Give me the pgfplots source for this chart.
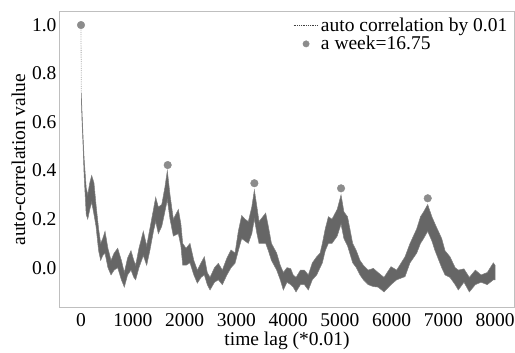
\documentclass[border=0pt]{standalone}
\usepackage{fontspec}
\setmainfont{Liberation Serif}
\usepackage{pgfplots}
\pgfplotsset{compat=1.18}
\begin{document}
\begin{tikzpicture}
\begin{axis}[
  name=ax,
  scale only axis,
  width=454pt, height=296pt,
  xmin=-406, xmax=8367, ymin=-0.165, ymax=1.055,
  xtick={0,1000,2000,3000,4000,5000,6000,7000,8000},
  ytick={0,0.2,0.4,0.6,0.8,1.0},
  scaled x ticks=false,
  xticklabel style={/pgf/number format/1000 sep={}, yshift=-2pt},
  yticklabel style={/pgf/number format/fixed,/pgf/number format/fixed zerofill,/pgf/number format/precision=1},
  /pgf/number format/assume math mode=true,
  major tick length=0pt,
  tick label style={font=\fontsize{19.5}{22}\selectfont, black},
  label style={font=\fontsize{19.5}{22}\selectfont, black},
  xlabel style={yshift=1pt},
  axis line style={draw=black!25, line width=1pt},
  xlabel={time lag (*0.01)},
  ylabel={auto-correlation value},
  legend style={at={(0.99,0.985)}, anchor=north east, draw=none, fill=none,
    font=\fontsize{19.5}{22}\selectfont, inner sep=0pt, row sep=-1pt},
  legend cell align=left,
]
\addplot[fill=black!60, draw=black!50, line width=0.5pt, forget plot] coordinates {
(5,0.72) (20,0.64) (40,0.54) (60,0.45) (100,0.33) (130,0.30) (170,0.35) (206,0.38) (250,0.35) (290,0.26) (340,0.16) (380,0.10) (420,0.12) (464,0.15) (520,0.08) (580,0.03) (640,0.06) (709,0.08) (780,0.03) (837,-0.02) (900,0.04) (966,0.07) (1020,0.03) (1056,0.01) (1120,0.08) (1204,0.15) (1269,0.09) (1330,0.16) (1400,0.24) (1443,0.29) (1494,0.25) (1560,0.26) (1620,0.33) (1668,0.40) (1720,0.30) (1784,0.20) (1881,0.24) (1930,0.18) (1965,0.10) (2030,0.08) (2106,0.10) (2180,0.03) (2248,-0.01) (2320,0.02) (2383,0.045) (2440,-0.02) (2493,-0.04) (2580,0.00) (2654,0.018) (2731,-0.01) (2820,0.04) (2899,0.073) (2976,0.06) (3040,0.15) (3105,0.215) (3169,0.20) (3233,0.19) (3300,0.25) (3350,0.32) (3400,0.25) (3440,0.19) (3569,0.225) (3620,0.17) (3680,0.10) (3781,0.06) (3850,0.01) (3910,-0.02) (3980,0.00) (4052,-0.004) (4100,-0.03) (4155,-0.04) (4240,-0.01) (4316,-0.01) (4393,-0.03) (4470,0.02) (4554,0.045) (4620,0.06) (4664,0.10) (4720,0.16) (4780,0.21) (4850,0.20) (4950,0.24) (5025,0.30) (5080,0.23) (5150,0.21) (5250,0.10) (5320,0.07) (5391,0.03) (5456,0.01) (5550,-0.01) (5649,-0.003) (5740,-0.02) (5855,-0.04) (5990,0.004) (6100,-0.01) (6261,0.045) (6358,0.10) (6487,0.16) (6560,0.21) (6620,0.23) (6699,0.26) (6780,0.21) (6841,0.18) (6970,0.12) (7034,0.07) (7130,0.045) (7230,0.00) (7291,-0.01) (7400,-0.005) (7504,-0.04) (7620,-0.01) (7730,-0.03) (7850,-0.02) (7968,0.02) (8000,0.01)
(8000,-0.05) (7968,-0.05) (7850,-0.07) (7730,-0.06) (7620,-0.07) (7504,-0.10) (7400,-0.06) (7291,-0.092) (7230,-0.07) (7130,-0.04) (7034,-0.03) (6970,0.00) (6841,0.07) (6780,0.11) (6699,0.15) (6620,0.12) (6560,0.10) (6487,0.06) (6358,0.02) (6261,-0.037) (6100,-0.05) (5990,-0.07) (5855,-0.10) (5740,-0.08) (5649,-0.078) (5550,-0.07) (5456,-0.05) (5391,-0.03) (5320,0.00) (5250,0.02) (5150,0.09) (5080,0.12) (5025,0.18) (4950,0.13) (4850,0.10) (4780,0.10) (4720,0.07) (4664,0.02) (4620,0.00) (4554,-0.03) (4470,-0.05) (4393,-0.092) (4316,-0.07) (4240,-0.07) (4155,-0.10) (4100,-0.08) (4052,-0.07) (3980,-0.06) (3910,-0.092) (3850,-0.05) (3781,-0.01) (3680,0.03) (3620,0.07) (3569,0.10) (3440,0.10) (3400,0.14) (3350,0.20) (3300,0.14) (3233,0.10) (3169,0.11) (3105,0.12) (3040,0.07) (2976,0.018) (2899,0.00) (2820,-0.03) (2731,-0.07) (2654,-0.05) (2580,-0.06) (2493,-0.092) (2440,-0.07) (2383,-0.03) (2320,-0.04) (2248,-0.064) (2180,-0.03) (2106,0.02) (2030,0.01) (1965,0.01) (1930,0.09) (1881,0.14) (1784,0.13) (1720,0.20) (1668,0.28) (1620,0.23) (1560,0.17) (1494,0.14) (1443,0.19) (1400,0.15) (1330,0.07) (1269,0.01) (1204,0.05) (1120,0.00) (1056,-0.05) (1020,-0.04) (966,-0.01) (900,-0.03) (837,-0.08) (780,-0.05) (709,0.00) (640,-0.01) (580,-0.03) (520,0.00) (464,0.06) (420,0.05) (380,0.03) (340,0.07) (290,0.17) (250,0.22) (206,0.27) (170,0.24) (130,0.20) (100,0.22) (60,0.38) (40,0.50) (20,0.60) (5,0.70)
} -- cycle;
\addplot[densely dotted, black!35, line width=0.8pt, forget plot] coordinates {
(0,1.0) (3,0.85) (6,0.72)
};
\addlegendimage{legend image code/.code={\draw[densely dotted, black!75, line width=0.8pt] (0pt,0pt) -- (25pt,0pt);}}
\addlegendentry{auto correlation by 0.01}
\addplot[only marks, mark=*, mark size=3.8pt, color=black!45, mark options={fill=black!45, draw=black!45},
  legend image code/.code={\fill[black!45] (12.5pt,0pt) circle (3.2pt);}] coordinates {
(0,1.0) (1675,0.423) (3350,0.348) (5025,0.327) (6700,0.286)
};
\addlegendentry{a week=16.75}
\end{axis}
\pgfresetboundingbox
\path (-60pt,-45.3pt) rectangle (455pt,307.7pt);
\end{tikzpicture}
\end{document}
